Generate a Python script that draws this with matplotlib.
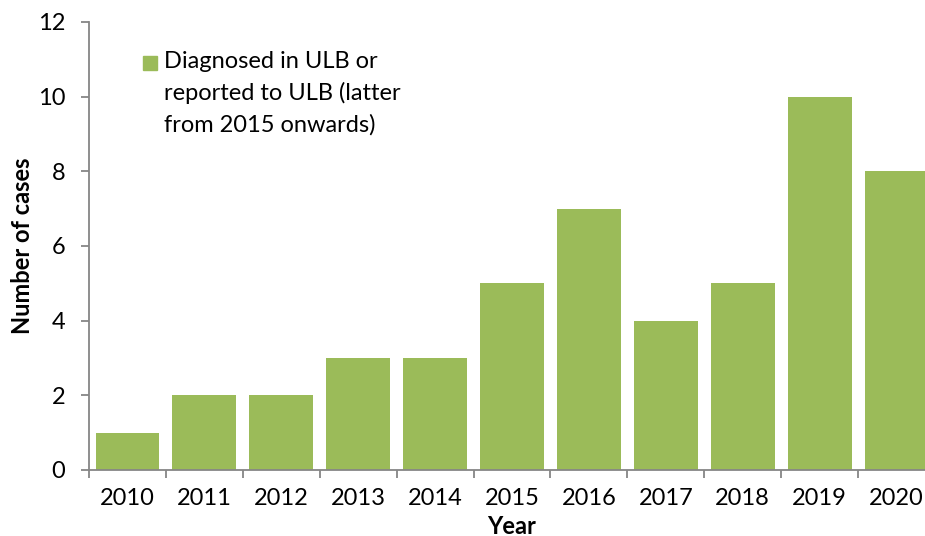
import numpy as np
import matplotlib.pyplot as plt
from matplotlib.patches import Rectangle

plt.rcParams['font.family'] = ['Lato', 'DejaVu Sans']

years = ['2010', '2011', '2012', '2013', '2014', '2015', '2016', '2017', '2018', '2019', '2020']
cases = [1, 2, 2, 3, 3, 5, 7, 4, 5, 10, 8]
legend_label = 'Diagnosed in ULB or\nreported to ULB (latter\nfrom 2015 onwards)'

green = '#9bbb59'
grey = '#868686'

fig = plt.figure(figsize=(9.25, 5.36), dpi=100)
# axes run slightly past the right edge, as in the original
ax = fig.add_axes([89 / 925, 66 / 536, 846 / 925, 448 / 536])

x = np.arange(len(years))
ax.bar(x, cases, width=0.83, color=green)

ax.set_xlim(-0.5, len(years) - 0.5)
ax.set_ylim(0, 12)
ax.set_yticks(range(0, 13, 2))
ax.set_xticks(x)
ax.set_xticklabels(years)
ax.set_xticks(np.arange(-0.5, len(years), 1), minor=True)
ax.tick_params(axis='x', which='major', length=0, pad=13, labelsize=17)
ax.tick_params(axis='x', which='minor', length=6, direction='out', color=grey, width=1.3)
ax.tick_params(axis='y', length=6, direction='out', color=grey, width=1.3, labelsize=17, pad=11)

for s in ['top', 'right']:
    ax.spines[s].set_visible(False)
for s in ['left', 'bottom']:
    ax.spines[s].set_color(grey)
    ax.spines[s].set_linewidth(1.3)

ax.set_ylabel('Number of cases', fontsize=17, fontweight='bold', labelpad=3)
ax.set_xlabel('Year', fontsize=17, fontweight='bold', labelpad=4)

# legend key sits next to the first line of a three-line label
fig.patches.append(Rectangle((143 / 925, 1 - 70 / 536), 14 / 925, 14 / 536,
                             transform=fig.transFigure, color=green))
fig.text(164 / 925, 1 - 51 / 536, legend_label, fontsize=17, va='top', linespacing=1.55)

fig.savefig('out.png', dpi=100)
